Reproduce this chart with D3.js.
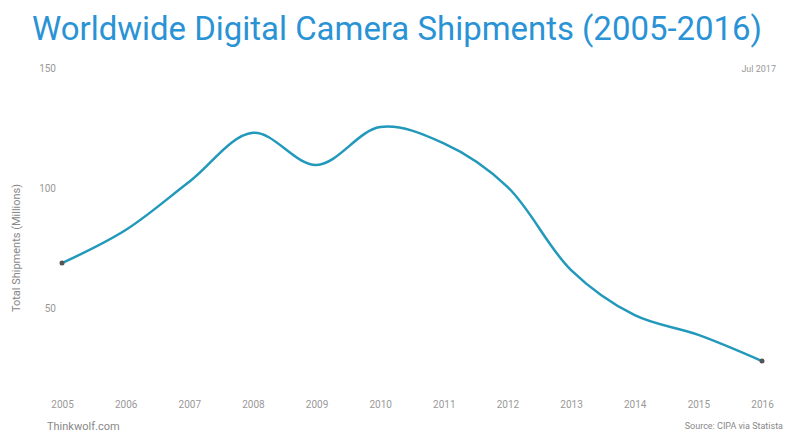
<!DOCTYPE html>
<html>
<head>
<meta charset="utf-8">
<script src="https://cdn.jsdelivr.net/npm/d3@7"></script>
<style>
  html, body { margin: 0; padding: 0; background: #fff; }
  svg { display: block; }
  text { font-family: Roboto, "Noto Sans", sans-serif; }
</style>
</head>
<body>
<svg id="chart" width="792" height="444"></svg>
<script>
const years = [2005, 2006, 2007, 2008, 2009, 2010, 2011, 2012, 2013, 2014, 2015, 2016];
const shipments = [68.7, 82.5, 102.6, 123.0, 109.6, 125.4, 118.6, 100.5, 65.8, 47.0, 38.8, 27.9];
const yTicks = [50, 100, 150];
const titleText = "Worldwide Digital Camera Shipments (2005-2016)";
const yLabel = "Total Shipments (Millions)";
const noteText = "Jul 2017";
const creditText = "Thinkwolf.com";
const sourceText = "Source: CIPA via Statista";

const svg = d3.select("#chart");

const x = d3.scalePoint().domain(years).range([62, 762]);
const y = d3.scaleLinear().domain([15, 150]).range([392, 68]);

// title
svg.append("text")
  .attr("x", 32).attr("y", 40)
  .attr("font-size", 34)
  .attr("fill", "#2a93d5")
  .attr("textLength", 730)
  .attr("lengthAdjust", "spacingAndGlyphs")
  .text(titleText);

// y axis (labels only)
const yAxis = d3.axisLeft(y).tickValues(yTicks).tickSize(0).tickPadding(0);
const gy = svg.append("g").attr("transform", "translate(56,0)").call(yAxis);
gy.select(".domain").remove();
gy.selectAll("text").attr("font-size", 10).attr("fill", "#999").attr("font-family", "Roboto, sans-serif");

// x axis (labels only)
const xAxis = d3.axisBottom(x).tickSize(0).tickPadding(0);
const gx = svg.append("g").attr("transform", "translate(0,401)").call(xAxis);
gx.select(".domain").remove();
gx.selectAll("text").attr("font-size", 10).attr("fill", "#999").attr("font-family", "Roboto, sans-serif");

// y label
svg.append("text")
  .attr("transform", "translate(20,248) rotate(-90)")
  .attr("text-anchor", "middle")
  .attr("font-size", 11)
  .attr("fill", "#888")
  .text(yLabel);

// note top right
svg.append("text")
  .attr("x", 776).attr("y", 72)
  .attr("text-anchor", "end")
  .attr("font-size", 9)
  .attr("fill", "#999")
  .text(noteText);

// credits
svg.append("text")
  .attr("x", 47).attr("y", 430)
  .attr("font-size", 11)
  .attr("fill", "#888")
  .text(creditText);

svg.append("text")
  .attr("x", 783).attr("y", 429)
  .attr("text-anchor", "end")
  .attr("font-size", 9)
  .attr("fill", "#888")
  .text(sourceText);

// line
const data = years.map((yr, i) => ({ yr, v: shipments[i] }));
const line = d3.line().x(d => x(d.yr)).y(d => y(d.v)).curve(d3.curveCatmullRom.alpha(0.5));

svg.append("path")
  .datum(data)
  .attr("fill", "none")
  .attr("stroke", "#2299bb")
  .attr("stroke-width", 2.5)
  .attr("stroke-linecap", "round")
  .attr("d", line);

// end dots
svg.selectAll("circle.end")
  .data([data[0], data[data.length - 1]])
  .join("circle")
  .attr("class", "end")
  .attr("cx", d => x(d.yr))
  .attr("cy", d => y(d.v))
  .attr("r", 2.5)
  .attr("fill", "#555");
</script>
</body>
</html>
